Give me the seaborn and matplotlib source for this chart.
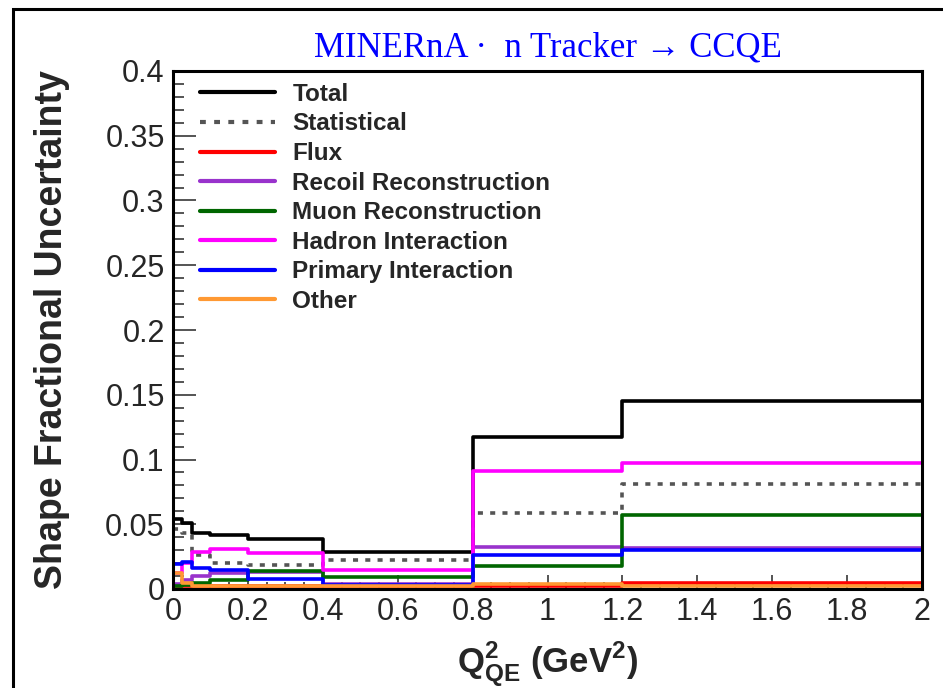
import numpy as np
import pandas as pd
import matplotlib
matplotlib.use("Agg")
import matplotlib.pyplot as plt
from matplotlib.patches import Rectangle
from matplotlib.ticker import MultipleLocator, FormatStrFormatter
import seaborn as sns

# Q^2_QE bin edges (GeV^2)
edges = [0.0, 0.025, 0.05, 0.1, 0.2, 0.4, 0.8, 1.2, 2.0]

# Shape fractional uncertainty per bin
total       = [0.054, 0.051, 0.043, 0.0415, 0.0385, 0.0285, 0.117, 0.145]
statistical = [0.046, 0.043, 0.0265, 0.0198, 0.0185, 0.0224, 0.059, 0.081]
flux        = [0.002, 0.002, 0.002, 0.002, 0.002, 0.002, 0.0025, 0.0044]
recoil      = [0.0035, 0.007, 0.0098, 0.0125, 0.013, 0.0035, 0.0327, 0.0314]
muon        = [0.002, 0.003, 0.0046, 0.0068, 0.014, 0.0095, 0.018, 0.057]
hadron      = [0.012, 0.020, 0.0288, 0.0312, 0.0275, 0.0145, 0.0914, 0.0975]
primary     = [0.019, 0.021, 0.016, 0.0148, 0.0075, 0.003, 0.026, 0.030]
other       = [0.012, 0.005, 0.0025, 0.0025, 0.0023, 0.0022, 0.0036, 0.002]

sources = ["Total", "Statistical", "Flux", "Recoil Reconstruction",
           "Muon Reconstruction", "Hadron Interaction", "Primary Interaction", "Other"]
series = [total, statistical, flux, recoil, muon, hadron, primary, other]
colors = ["#000000", "#555555", "#ff0000", "#9933cc",
          "#006600", "#ff00ff", "#0000ff", "#ff9933"]

rows = []
for name, vals in zip(sources, series):
    ys = list(vals) + [vals[-1]]
    for x, y in zip(edges, ys):
        rows.append({"source": name, "q2": x, "value": y})
df = pd.DataFrame(rows)

sns.set_style("ticks")
plt.rcParams["font.family"] = ["Liberation Sans", "DejaVu Sans"]
plt.rcParams["mathtext.fontset"] = "custom"
plt.rcParams["mathtext.rm"] = "Liberation Sans"
plt.rcParams["mathtext.bf"] = "Liberation Sans:bold"

fig = plt.figure(figsize=(9.43, 6.88), dpi=100)
ax = fig.add_axes([173 / 943, 1 - 589 / 688, 749 / 943, 518 / 688])

lw = 2.6
for name, col in zip(sources, colors):
    ls = (0, (1.4, 2.0)) if name == "Statistical" else "-"
    sns.lineplot(data=df[df["source"] == name], x="q2", y="value", ax=ax,
                 color=col, lw=lw, linestyle=ls, drawstyle="steps-post",
                 estimator=None, sort=False, label=name)

ax.set_xlim(0, 2)
ax.set_ylim(0, 0.4)
ax.xaxis.set_major_locator(MultipleLocator(0.2))
ax.xaxis.set_minor_locator(MultipleLocator(0.05))
ax.yaxis.set_major_locator(MultipleLocator(0.05))
ax.yaxis.set_minor_locator(MultipleLocator(0.01))
ax.xaxis.set_major_formatter(FormatStrFormatter("%g"))
ax.yaxis.set_major_formatter(FormatStrFormatter("%g"))
ax.tick_params(axis="both", which="both", direction="in", width=1.1,
               labelsize=22, top=False, right=False)
ax.tick_params(axis="x", which="major", length=10, pad=6)
ax.tick_params(axis="x", which="minor", length=5)
ax.tick_params(axis="y", which="major", length=16.5, pad=6)
ax.tick_params(axis="y", which="minor", length=8)
for sp in ax.spines.values():
    sp.set_linewidth(2.2)
    sp.set_color("black")

ax.set_ylabel("Shape Fractional Uncertainty", fontsize=27, fontweight="bold")
ax.yaxis.set_label_coords(-0.137, 0.5)
ax.set_xlabel(r"$\mathbf{Q^{2}_{QE}}$ (GeV$^{\mathbf{2}}$)", fontsize=25,
              fontweight="bold")
ax.xaxis.set_label_coords(0.5, -0.097)

leg = ax.legend(loc="upper left", bbox_to_anchor=(0.036, 0.977), frameon=False,
                prop={"family": "Liberation Sans", "weight": "bold", "size": 17.5},
                handlelength=3.1, handletextpad=0.7, labelspacing=0.27,
                borderpad=0, borderaxespad=0)
for line in leg.get_lines():
    line.set_linewidth(3.0)

fig.text(548 / 943, 1 - 48 / 688, "MINERnA ·  n Tracker → CCQE", color="#0000ff",
         fontsize=25, family=["Liberation Serif", "DejaVu Serif"],
         ha="center", va="center")

fig.patches.append(Rectangle((13 / 943, -0.1), 1.2, 1.1 - 9 / 688,
                             transform=fig.transFigure, fill=False,
                             lw=2.2, ec="black"))

fig.savefig("out.png", dpi=100)
